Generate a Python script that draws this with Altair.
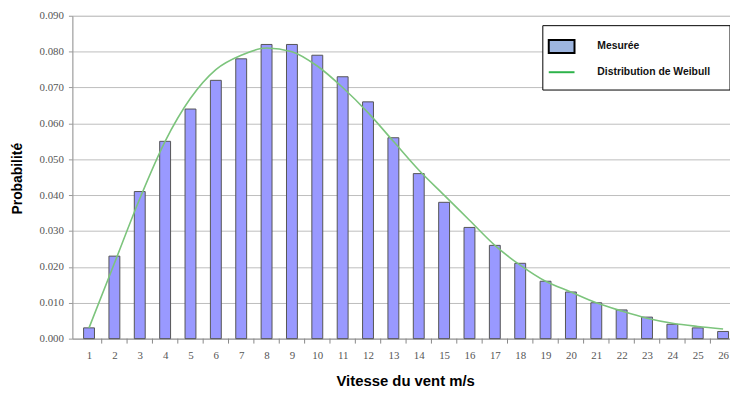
import altair as alt
import pandas as pd

vitesse = list(range(1, 27))
mesuree = [0.003, 0.023, 0.041, 0.055, 0.064, 0.072, 0.078, 0.082, 0.082, 0.079,
           0.073, 0.066, 0.056, 0.046, 0.038, 0.031, 0.026, 0.021, 0.016, 0.013,
           0.010, 0.008, 0.006, 0.004, 0.003, 0.002]
weibull = [0.003, 0.021, 0.039, 0.055, 0.067, 0.075, 0.079, 0.081, 0.080, 0.076,
           0.070, 0.063, 0.055, 0.047, 0.040, 0.033, 0.026, 0.0205, 0.016, 0.013,
           0.010, 0.0077, 0.0057, 0.0043, 0.0034, 0.0027]
y_ticks = [0.0, 0.01, 0.02, 0.03, 0.04, 0.05, 0.06, 0.07, 0.08, 0.09]
series = ["Mesurée", "Distribution de Weibull"]

df = pd.DataFrame({"v": vitesse, "mesuree": mesuree, "weibull": weibull})
bounds = pd.DataFrame({"b": [v + 0.5 for v in vitesse[:-1]]})

xscale = alt.Scale(domain=[0.5385, 26.077], nice=False, zero=False)
yscale = alt.Scale(domain=[0, 0.09], nice=False)

common_legend = dict(
    title=None, orient="none", direction="vertical", padding=0,
    symbolSize=676, labelFont="Liberation Sans", labelFontWeight="bold",
    labelFontSize=10.5, labelColor="#111111", labelOffset=22,
)
legend_bar = alt.Legend(legendX=480, legendY=17, symbolType="M-1,-0.5H1V0.5H-1Z",
                        symbolStrokeColor="#000000", symbolStrokeWidth=2,
                        **common_legend)
legend_line = alt.Legend(legendX=480, legendY=43, symbolType="stroke",
                         symbolStrokeWidth=2, **common_legend)

xaxis = alt.Axis(values=vitesse, format="d", ticks=False, grid=False,
                 labelOverlap=False, labelFlush=False,
                 labelFont="Liberation Serif", labelFontSize=11, labelColor="#555555",
                 labelPadding=11, domainColor="#999999",
                 title="Vitesse du vent m/s", titleFont="Liberation Sans",
                 titleFontSize=15, titleFontWeight="bold", titleColor="#000000",
                 titleX=336, titleY=42, titleBaseline="middle", titleAlign="center")
yaxis = alt.Axis(values=y_ticks, format=".3f", tickSize=4, tickColor="#999999",
                 labelOverlap=False, labelFlush=False,
                 grid=True, gridColor="#BDBDBD", gridWidth=1,
                 labelFont="Liberation Serif", labelFontSize=11, labelColor="#555555",
                 labelPadding=5, domainColor="#999999",
                 title="Probabilité", titleFont="Liberation Sans", titleFontSize=14,
                 titleFontWeight="bold", titleColor="#000000",
                 titleX=-55, titleY=164, titleBaseline="middle", titleAlign="center")

bars = alt.Chart(df).transform_calculate(serie="'Mesurée'").mark_bar(
    size=11, orient="vertical", stroke="#555555", strokeWidth=1
).encode(
    x=alt.X("v:Q", scale=xscale, axis=xaxis),
    y=alt.Y("mesuree:Q", scale=yscale, axis=yaxis),
    fill=alt.condition("true", alt.value("#9999FF"),
                       alt.Fill("serie:N", scale=alt.Scale(domain=[series[0]], range=["#9DB5DF"]),
                                legend=legend_bar)),
)

line = alt.Chart(df).transform_calculate(serie="'Distribution de Weibull'").mark_line(
    interpolate="monotone", strokeWidth=1.6
).encode(
    x=alt.X("v:Q", scale=xscale, axis=xaxis),
    y=alt.Y("weibull:Q", scale=yscale, axis=yaxis),
    stroke=alt.condition("true", alt.value("#7CC47C"),
                         alt.Stroke("serie:N", scale=alt.Scale(domain=[series[1]], range=["#2DB34A"]),
                                    legend=legend_line)),
)

ticks = alt.Chart(bounds).mark_rule(color="#888888", strokeWidth=1).encode(
    x=alt.X("b:Q", scale=xscale, axis=xaxis),
    y=alt.value(326),
    y2=alt.value(331),
)

legend_box = alt.Chart(pd.DataFrame({"serie": [series[0]]})).mark_rect(
    fill="#FFFFFF", stroke="#000000", strokeWidth=1
).encode(
    x=alt.value(475), x2=alt.value(664), y=alt.value(10), y2=alt.value(75),
)

chart = alt.layer(bars, line, ticks, legend_box).properties(
    width=664, height=326,
    autosize=alt.AutoSizeParams(type="none"),
    padding={"left": 65, "top": 6, "right": 0, "bottom": 48},
).resolve_scale(fill="independent", stroke="independent").configure_view(
    stroke=None).configure(background="white")

chart.save("out.html", embed_options={"renderer": "svg", "actions": False})
